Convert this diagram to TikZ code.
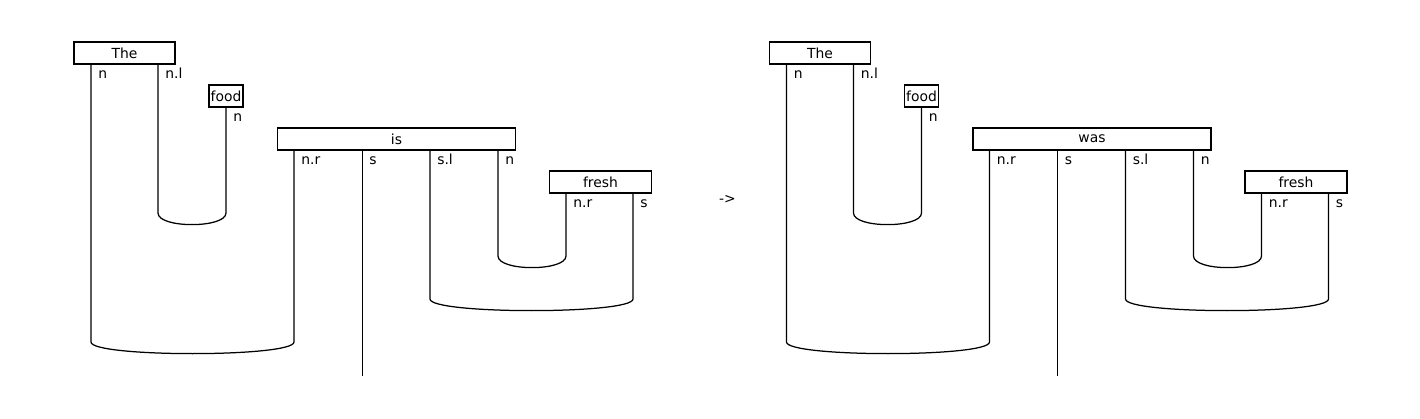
\documentclass[tikz,border=0pt]{standalone}
\usepackage{fontspec}
\setmainfont{DejaVu Sans}
\tikzset{
  wbox/.style={draw, line width=0.9pt, fill=white, inner sep=0pt, minimum height=15.84pt, font=\fontsize{10}{12}\selectfont},
  wire/.style={line width=0.9pt},
  lbl/.style={anchor=base west, inner sep=0pt, font=\fontsize{10}{12}\selectfont}
}
\newcommand\onediagram[3]{%
\begin{scope}[xshift=#2*0.72pt]
  % boxes
  \node[wbox, minimum width=72.72pt] (#1the) at (124.5,53) {The};
  \node[wbox, minimum width=24.48pt] (#1food) at (226,96) {food};
  \node[wbox, minimum width=171.36pt] (#1verb) at (396.5,139) {#3};
  \node[wbox, minimum width=73.44pt] (#1fresh) at (600.5,182) {fresh};
  % wire tops
  \coordinate (#1theN) at (91,64);
  \coordinate (#1theNL) at (158,64);
  \coordinate (#1foodN) at (226,107);
  \coordinate (#1verbNR) at (294,150);
  \coordinate (#1verbS) at (362.3,150);
  \coordinate (#1verbSL) at (430,150);
  \coordinate (#1verbN) at (498,150);
  \coordinate (#1freshNR) at (566,193);
  \coordinate (#1freshS) at (633,193);
  \coordinate (#1out) at (362.3,376);
  % labels
  \node[lbl] (#1l1) at (98,79) {n};
  \node[lbl] (#1l2) at (165,79) {n.l};
  \node[lbl] (#1l3) at (233,122) {n};
  \node[lbl] (#1l4) at (301,165) {n.r};
  \node[lbl] (#1l5) at (369,165) {s};
  \node[lbl] (#1l6) at (437,165) {s.l};
  \node[lbl] (#1l7) at (505,165) {n};
  \node[lbl] (#1l8) at (573,208) {n.r};
  \node[lbl] (#1l9) at (640,208) {s};
  % wires and cups
  \draw[wire] (#1theNL) -- (158,213) .. controls (158,228.5) and (226,228.5) .. (226,213) -- (#1foodN);
  \draw[wire] (#1verbN) -- (498,256) .. controls (498,271.5) and (566,271.5) .. (566,256) -- (#1freshNR);
  \draw[wire] (#1verbSL) -- (430,299) .. controls (430,314.5) and (633,314.5) .. (633,299) -- (#1freshS);
  \draw[wire] (#1theN) -- (91,342) .. controls (91,357.5) and (294,357.5) .. (294,342) -- (#1verbNR);
  \draw[wire] (#1verbS) -- (#1out);
\end{scope}}
\begin{document}
\begin{tikzpicture}[x=0.72pt, y=-0.72pt]
  \useasboundingbox (0,0) rectangle (1420,419);
  \onediagram{L}{0}{is}
  \node[inner sep=0pt, font=\fontsize{10}{12}\selectfont] (arrow) at (727.5,199) {->};
  \onediagram{R}{695.5}{was}
\end{tikzpicture}
\end{document}
